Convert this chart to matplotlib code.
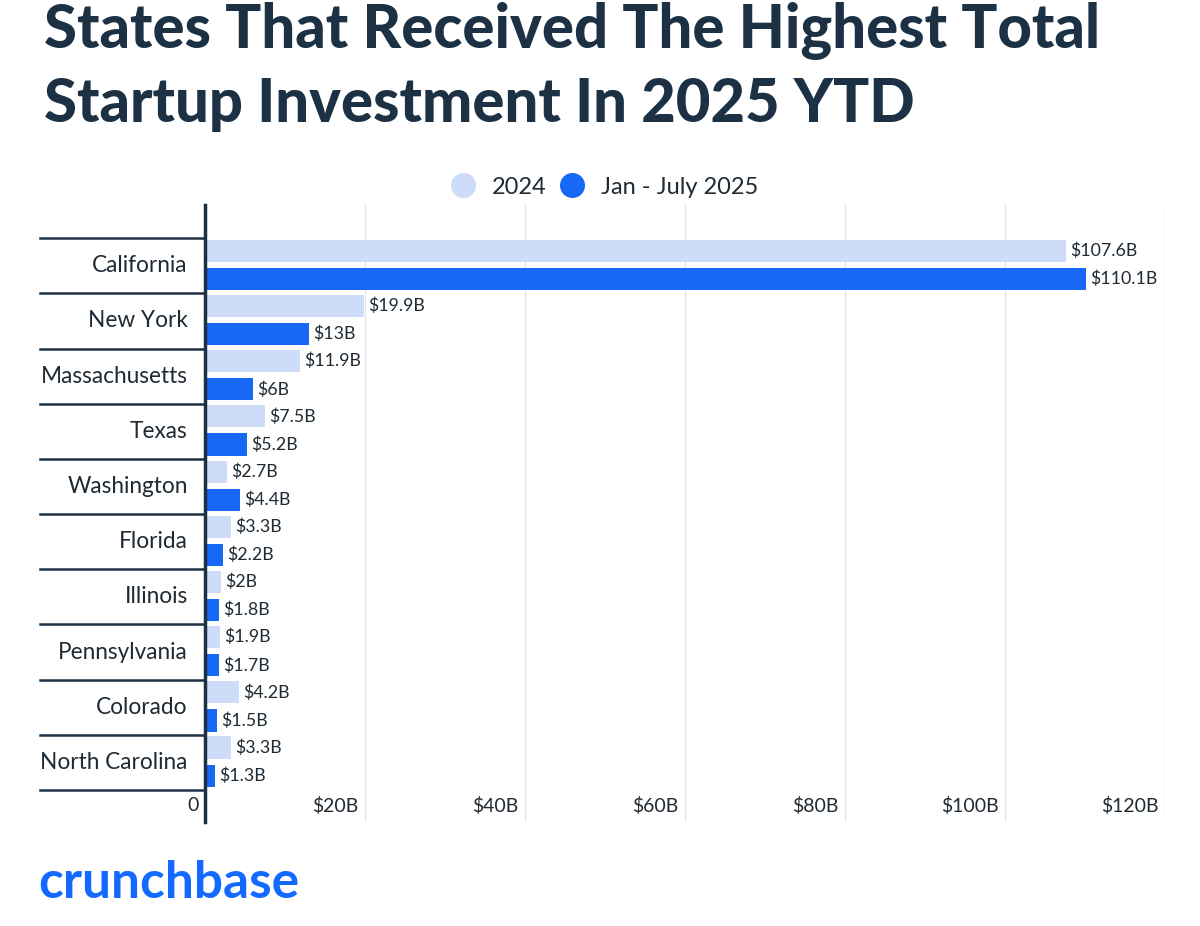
import matplotlib.pyplot as plt
from matplotlib.lines import Line2D
import numpy as np

# data (billions USD)
states = ["California", "New York", "Massachusetts", "Texas", "Washington",
          "Florida", "Illinois", "Pennsylvania", "Colorado", "North Carolina"]
inv_2024 = [107.6, 19.9, 11.9, 7.5, 2.7, 3.3, 2, 1.9, 4.2, 3.3]
inv_2025 = [110.1, 13, 6, 5.2, 4.4, 2.2, 1.8, 1.7, 1.5, 1.3]
x_ticks = [0, 20, 40, 60, 80, 100, 120]
x_tick_labels = ["0", "$20B", "$40B", "$60B", "$80B", "$100B", "$120B"]
series_names = ["2024", "Jan - July 2025"]

LIGHT = "#cddcf8"
BLUE = "#1768f5"
NAVY = "#1c3144"
TEXT = "#1f2a33"

plt.rcParams['font.family'] = ['Lato', 'DejaVu Sans']

fig = plt.figure(figsize=(12, 9.26), dpi=100)
ax = fig.add_axes([0.1708, 0.1123, 0.8, 0.6663])

y = np.arange(len(states))
h = 0.4
b1 = ax.barh(y - 0.27, inv_2024, height=h, color=LIGHT, zorder=3)
b2 = ax.barh(y + 0.24, inv_2025, height=h, color=BLUE, zorder=3)

def fmt(v):
    return f"${v:g}B"

ax.bar_label(b1, labels=[fmt(v) for v in inv_2024], padding=3, fontsize=12.8, color=TEXT)
ax.bar_label(b2, labels=[fmt(v) for v in inv_2025], padding=3, fontsize=12.8, color=TEXT)

ax.set_xlim(0, 120)
ax.set_ylim(10.08, -1.1)

# gridlines
for t in x_ticks[1:]:
    ax.axvline(t, color="#e6e6e6", lw=1, zorder=0)

for s in ["top", "right", "bottom"]:
    ax.spines[s].set_visible(False)
ax.spines["left"].set_color(NAVY)
ax.spines["left"].set_linewidth(2.5)
ax.spines["left"].set_zorder(5)

ax.set_xticks([])
ax.set_yticks([])

# tick labels inside the axes, right-aligned against gridlines
xt = ax.get_xaxis_transform()
for t, lab in zip(x_ticks, x_tick_labels):
    ax.text(t - 0.8, 0.026, lab, transform=xt, ha="right", va="center",
            fontsize=14, color=TEXT)

# category labels and separator lines
yt = ax.get_yaxis_transform()
for i, name in enumerate(states):
    ax.text(-0.018, i, name, transform=yt, ha="right", va="center",
            fontsize=16.3, color=TEXT)
for sep in np.arange(-0.5, len(states), 1.0):
    ax.add_line(Line2D([-0.172, 0], [sep, sep], transform=yt, color=NAVY,
                       lw=1.8, clip_on=False))

# legend
handles = [Line2D([], [], marker="o", ls="", markersize=17, color=c)
           for c in [LIGHT, BLUE]]
fig.legend(handles, series_names, loc="center", bbox_to_anchor=(0.499, 0.798),
           ncol=2, frameon=False, fontsize=17, handletextpad=0.25,
           columnspacing=0.05, labelcolor=TEXT)

# title
fig.text(0.037, 0.948, "States That Received The Highest Total", fontsize=43,
         fontweight="black", color=NAVY, va="baseline")
fig.text(0.037, 0.868, "Startup Investment In 2025 YTD", fontsize=43,
         fontweight="black", color=NAVY, va="baseline")

# logo
fig.text(0.032, 0.030, "crunchbase", fontsize=37, fontweight="bold",
         color="#146aff", va="baseline")

fig.savefig("out.png", dpi=100, facecolor="white")
